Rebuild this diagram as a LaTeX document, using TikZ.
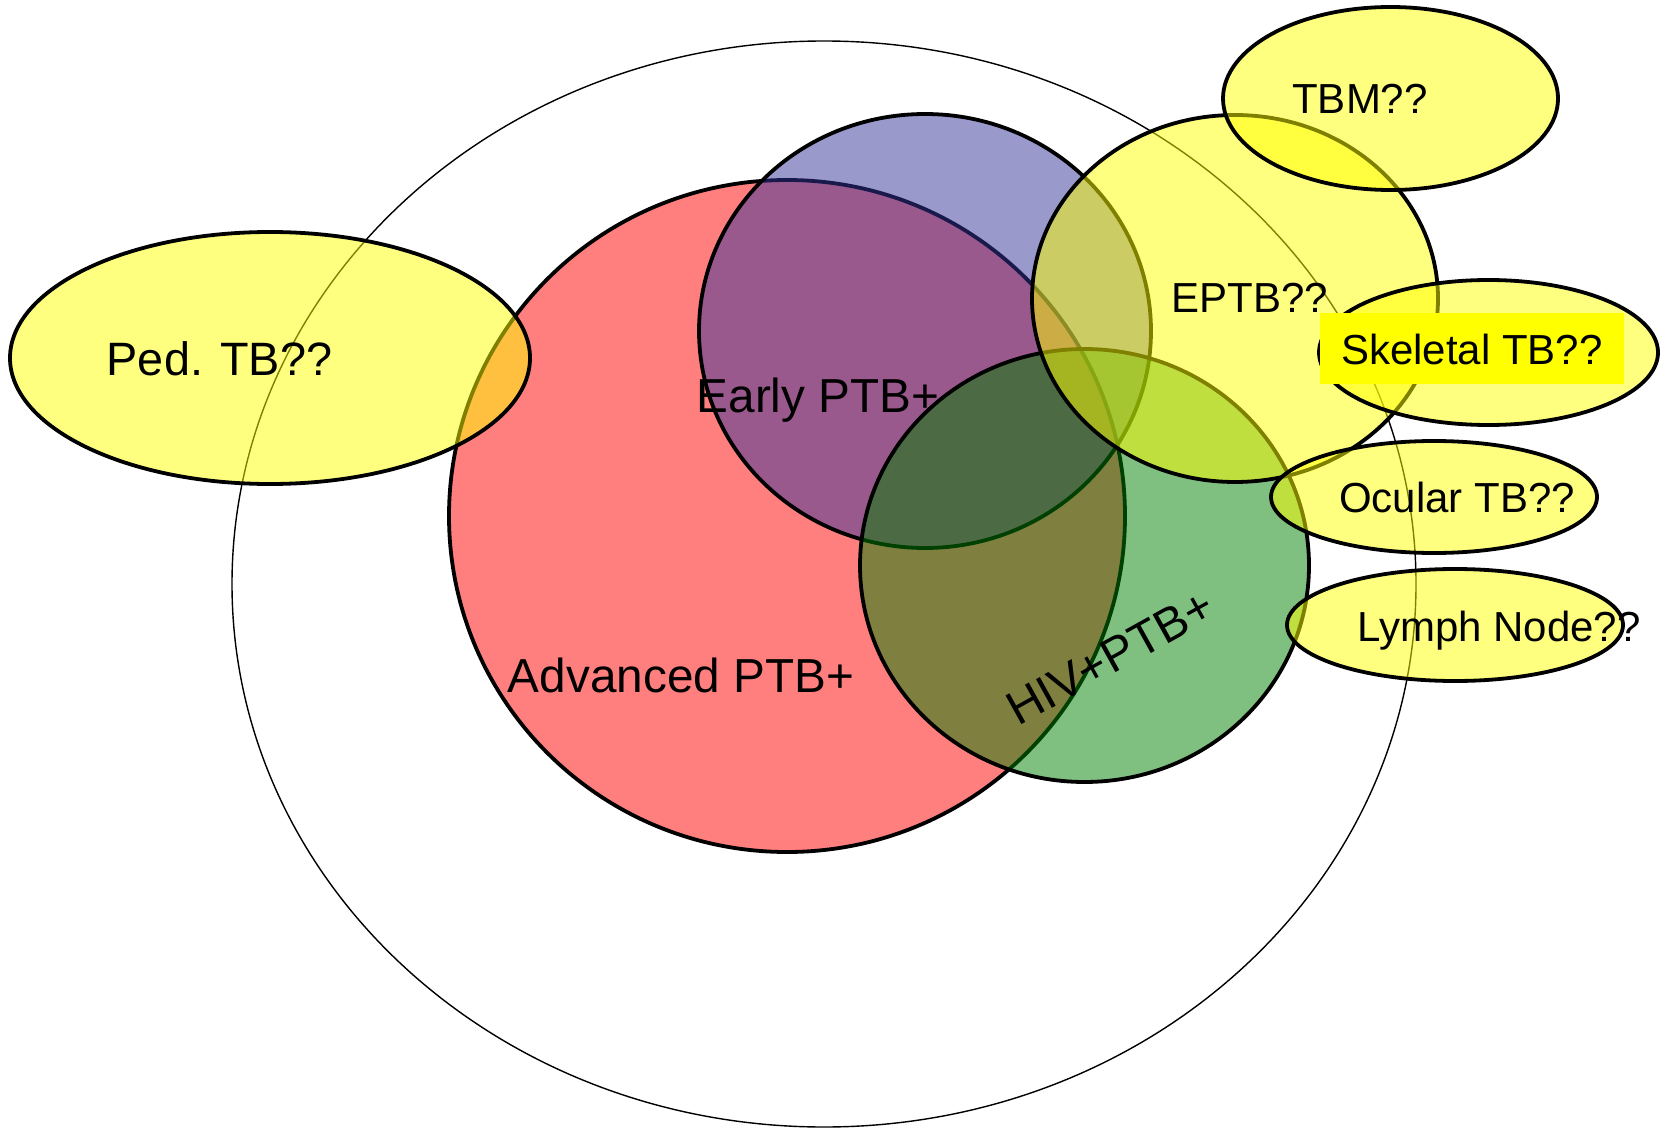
\documentclass[tikz,border=0pt]{standalone}
\usepackage{fontspec}
\setmainfont{Liberation Sans}
\definecolor{vred}{RGB}{255,0,0}
\definecolor{vblue}{RGB}{51,51,153}
\definecolor{vgreen}{RGB}{0,128,0}
\definecolor{vyellow}{RGB}{255,255,0}
\tikzset{
  setshape/.style={draw=black, line width=1.9pt, fill opacity=0.5, draw opacity=1},
  outerset/.style={draw=black, line width=0.7pt},
  biglabel/.style={font=\fontsize{23.85}{28}\selectfont, text=black, inner sep=0pt},
  smalllabel/.style={font=\fontsize{21}{25}\selectfont, text=black, inner sep=0pt},
}
\begin{document}
\begin{tikzpicture}[x=0.5pt,y=-0.5pt]
\useasboundingbox (0,0) rectangle (1664,1128);
% outer universe
\draw[outerset] (824,584) ellipse [x radius=296pt, y radius=271.5pt];
% Advanced PTB+
\draw[setshape, fill=vred] (787,516) ellipse [x radius=169pt, y radius=168pt];
\node[biglabel, anchor=base] (adv) at (681,692) {Advanced PTB+};
% Early PTB+
\draw[setshape, fill=vblue] (925,331) ellipse [x radius=113pt, y radius=108.5pt];
\node[biglabel, anchor=base] (early) at (818,413) {Early PTB+};
% HIV+PTB+
\draw[setshape, fill=vgreen] (1084.5,565.5) ellipse [x radius=112.25pt, y radius=108.25pt];
\node[biglabel, anchor=base, rotate=29] (hiv) at (1118,671.5) {HIV+PTB+};
% EPTB
\draw[setshape, fill=vyellow] (1235,298.5) ellipse [x radius=101.5pt, y radius=91.75pt];
\node[smalllabel, anchor=base] (eptb) at (1250,313) {EPTB??};
% Ped. TB
\draw[setshape, fill=vyellow] (270,358) ellipse [x radius=130pt, y radius=63pt];
\node[biglabel, font=\fontsize{23.4}{28}\selectfont, anchor=base] (ped) at (219.5,376) {Ped. TB??};
% TBM
\draw[setshape, fill=vyellow] (1390.5,98.5) ellipse [x radius=83.75pt, y radius=45.75pt];
\node[smalllabel, anchor=base] (tbm) at (1360,114) {TBM??};
% Skeletal
\draw[setshape, fill=vyellow] (1488.5,352.5) ellipse [x radius=84.75pt, y radius=36.25pt];
\node[smalllabel, fill=vyellow, minimum width=152pt, minimum height=35.5pt] (skel) at (1472,349) {Skeletal TB??};
% Ocular
\draw[setshape, fill=vyellow] (1434,497) ellipse [x radius=81.5pt, y radius=28pt];
\node[smalllabel, anchor=base] (ocular) at (1457,512) {Ocular TB??};
% Lymph node
\draw[setshape, fill=vyellow] (1455,625) ellipse [x radius=84pt, y radius=28pt];
\node[smalllabel, anchor=base] (lymph) at (1499,641) {Lymph Node??};
\end{tikzpicture}
\end{document}
